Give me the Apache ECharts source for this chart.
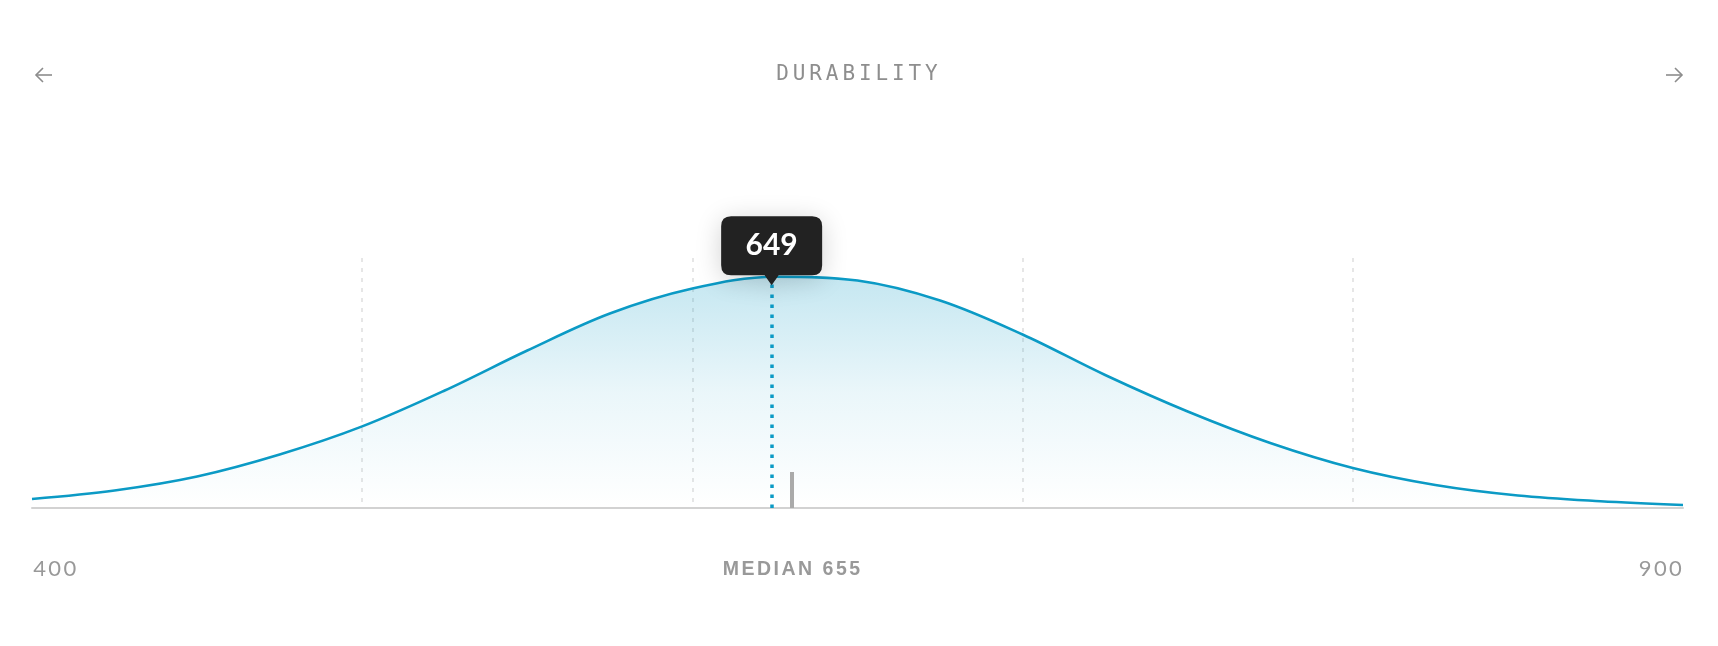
<!DOCTYPE html>
<html>
<head>
<meta charset="utf-8">
<title>Durability</title>
<script src="https://cdn.jsdelivr.net/npm/echarts@6/dist/echarts.min.js"></script>
<style>
  html, body { margin: 0; padding: 0; background: #ffffff; }
  #chart { width: 1718px; height: 646px; }
</style>
</head>
<body>
<div id="chart"></div>
<script>
// durability values (x) and curve height (y)
var durability = [425, 450, 475, 500, 525, 550, 575, 600, 625, 650, 675, 700, 725, 750, 775, 800, 825, 850, 875, 900, 925];
var density = [9, 17.5, 31.5, 53.5, 81.6, 117.5, 157.5, 194.5, 219.5, 231.3, 227.5, 207.5, 173.5, 133, 96.5, 65, 40, 23, 12.5, 6.8, 3];

var axisMin = 425;
var axisMax = 925;
var edgeLabels = ['400', '900'];

var current = 649;
var currentDensity = 231.2;
var median = 655;
var medianTick = 36;

var titleText = 'DURABILITY';
var medianText = 'MEDIAN ' + median;

var blue = '#0b9ac5';
var grey = '#8c8c8c';

// poor man's letter spacing: one rich token per character
function spaced(str, style) {
  return str.split('').map(function (c) { return '{' + style + '|' + c + '}'; }).join('');
}

var points = durability.map(function (v, i) { return [v, density[i]]; });

var callout = 'path://M10 0 H91 Q101 0 101 10 V49 Q101 59 91 59 H57.5 L50.5 69 L43.5 59 H10 Q0 59 0 49 V10 Q0 0 10 0 Z';

var chart = echarts.init(document.getElementById('chart'));

var option = {
  animation: false,
  backgroundColor: '#ffffff',
  grid: { left: 32, right: 35, top: 258, bottom: 138 },
  xAxis: [{
    type: 'value',
    min: axisMin,
    max: axisMax,
    axisLine: { show: true, lineStyle: { color: '#d2d2d2', width: 2 } },
    axisTick: { show: false },
    axisLabel: { show: false },
    splitLine: { show: false }
  }, {
    // five equal bands for the dotted guides and the edge labels
    type: 'value',
    min: 0,
    max: 5,
    interval: 1,
    position: 'bottom',
    axisLine: { show: false },
    axisTick: { show: false },
    splitLine: {
      show: true,
      showMinLine: false,
      showMaxLine: false,
      lineStyle: { color: '#e6e6e6', width: 2, type: [4, 6] }
    },
    axisLabel: {
      show: true,
      margin: 50,
      alignMinLabel: 'left',
      alignMaxLabel: 'right',
      formatter: function (v) {
        if (v === 0) return spaced(edgeLabels[0], 'e');
        if (v === 5) return spaced(edgeLabels[1], 'e');
        return '';
      },
      rich: {
        e: { fontFamily: 'Lato', fontSize: 22, color: '#999999', padding: [0, 1.2] }
      }
    }
  }],
  yAxis: {
    type: 'value',
    min: 0,
    max: 250,
    show: false,
    splitLine: { show: false }
  },
  series: [{
    type: 'line',
    xAxisIndex: 0,
    data: points,
    smooth: 0.35,
    symbol: 'none',
    silent: true,
    lineStyle: { color: blue, width: 2.6 },
    areaStyle: {
      color: new echarts.graphic.LinearGradient(0, 0, 0, 1, [
        { offset: 0, color: 'rgba(12,154,196,0.34)' },
        { offset: 0.5, color: 'rgba(12,154,196,0.12)' },
        { offset: 1, color: 'rgba(12,154,196,0)' }
      ])
    },
    markLine: {
      silent: true,
      symbol: ['none', 'none'],
      label: { show: false },
      emphasis: { disabled: true },
      data: [
        [{ coord: [current, 0], lineStyle: { color: blue, width: 3.5, type: [3.5, 6.5] } },
         { coord: [current, currentDensity] }],
        [{ coord: [median, 0], lineStyle: { color: '#aaaaaa', width: 4, type: 'solid' } },
         { coord: [median, medianTick] }]
      ]
    },
    markPoint: {
      silent: true,
      symbol: callout,
      symbolSize: [101, 69],
      symbolOffset: [0, -26],
      itemStyle: {
        color: '#222222',
        shadowBlur: 26,
        shadowColor: 'rgba(0,0,0,0.18)',
        shadowOffsetY: 4
      },
      label: {
        show: true,
        position: 'inside',
        offset: [0, -5],
        color: '#ffffff',
        fontFamily: 'Lato',
        fontWeight: 'bold',
        fontSize: 30,
        formatter: function (p) { return String(p.value); }
      },
      data: [{ coord: [current, currentDensity], value: current }]
    }
  }]
};

chart.setOption(option);

var medianX = chart.convertToPixel({ xAxisIndex: 0 }, median);

function arrow(cx, dir) {
  // small chevron arrow icon, dir = -1 points left, 1 points right
  return {
    type: 'group',
    x: cx,
    y: 75,
    children: [{
      type: 'polyline',
      shape: { points: [[-8, 0], [8, 0]] },
      style: { stroke: grey, lineWidth: 1.6, fill: null }
    }, {
      type: 'polyline',
      shape: { points: [[dir * 1, -7], [dir * 8, 0], [dir * 1, 7]] },
      style: { stroke: grey, lineWidth: 1.6, fill: null }
    }]
  };
}

chart.setOption({
  graphic: [{
    type: 'text',
    x: 857,
    y: 75,
    style: {
      text: spaced(titleText, 't'),
      align: 'center',
      verticalAlign: 'middle',
      rich: {
        t: { fontFamily: 'DejaVu Sans Mono', fontSize: 21, fill: '#8e8e8e', padding: [0, 1.95] }
      }
    }
  },
  arrow(44, -1),
  arrow(1674, 1),
  {
    type: 'text',
    x: medianX,
    y: 570,
    style: {
      text: spaced(medianText, 'm'),
      align: 'center',
      verticalAlign: 'middle',
      rich: {
        m: { fontFamily: 'Liberation Sans', fontWeight: 'bold', fontSize: 19.5, fill: '#999999', padding: [0, 1.25] }
      }
    }
  }]
});
</script>
</body>
</html>
